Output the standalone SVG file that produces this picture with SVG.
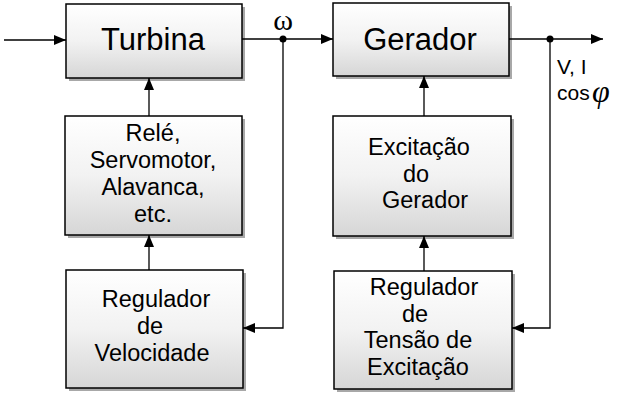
<svg xmlns="http://www.w3.org/2000/svg" width="629" height="396" viewBox="0 0 629 396">
<defs>
<linearGradient id="g" x1="0" y1="0" x2="0" y2="1">
<stop offset="0" stop-color="#ffffff"/>
<stop offset="0.5" stop-color="#f2f2f2"/>
<stop offset="1" stop-color="#d6d6d6"/>
</linearGradient>
<marker id="ah" markerWidth="12" markerHeight="10" refX="12" refY="5" orient="auto" markerUnits="userSpaceOnUse">
<path d="M0,0 L12,5 L0,10 Z" fill="#000"/>
</marker>
</defs>
<style>
.box{fill:url(#g);stroke:#000;stroke-width:1.5}
.sh{fill:#a8a8a8}
.big{font-family:"Liberation Sans",Arial,sans-serif;font-size:31px;fill:#000;text-anchor:middle}
.t{font-family:"Liberation Sans",Arial,sans-serif;font-size:23.5px;fill:#000;text-anchor:middle}
.c{fill:none;stroke:#000;stroke-width:1.3}
</style>
<rect width="629" height="396" fill="#fff"/>
<g id="turbina">
<rect class="sh" x="69" y="7" width="176" height="74"/>
<rect class="box" x="66" y="4" width="176" height="74"/>
<text class="big" x="153" y="50">Turbina</text>
</g>
<g id="gerador">
<rect class="sh" x="336" y="6" width="176" height="73"/>
<rect class="box" x="333" y="3" width="176" height="73"/>
<text class="big" x="420" y="50">Gerador</text>
</g>
<g id="rele">
<rect class="sh" x="68" y="119" width="177" height="119"/>
<rect class="box" x="65" y="116" width="177" height="119"/>
<text class="t" x="153" y="141">Relé,</text>
<text class="t" x="153" y="168">Servomotor,</text>
<text class="t" x="153" y="195">Alavanca,</text>
<text class="t" x="153" y="222">etc.</text>
</g>
<g id="regvel">
<rect class="sh" x="69" y="273" width="177" height="118"/>
<rect class="box" x="66" y="270" width="177" height="118"/>
<text class="t" x="156" y="307">Regulador</text>
<text class="t" x="150" y="334">de</text>
<text class="t" x="152" y="361">Velocidade</text>
</g>
<g id="excitacao">
<rect class="sh" x="336" y="119" width="178" height="120"/>
<rect class="box" x="333" y="116" width="178" height="120"/>
<text class="t" x="419" y="155">Excitação</text>
<text class="t" x="416" y="182">do</text>
<text class="t" x="425" y="208">Gerador</text>
</g>
<g id="regtensao">
<rect class="sh" x="337" y="274" width="178" height="118"/>
<rect class="box" x="334" y="271" width="178" height="118"/>
<text class="t" x="424" y="295">Regulador</text>
<text class="t" x="415" y="322">de</text>
<text class="t" x="418" y="348">Tensão de</text>
<text class="t" x="418" y="375">Excitação</text>
</g>
<g id="connectors">
<line class="c" x1="4" y1="40" x2="66" y2="40" marker-end="url(#ah)"/>
<line class="c" x1="242" y1="39" x2="333" y2="39" marker-end="url(#ah)"/>
<line class="c" x1="509" y1="39" x2="603" y2="39" marker-end="url(#ah)"/>
<circle cx="283" cy="39" r="3.5" fill="#000"/>
<circle cx="550" cy="39" r="3.5" fill="#000"/>
<polyline class="c" points="283,39 283,328 243,328" marker-end="url(#ah)"/>
<polyline class="c" points="550,39 550,328 512,328" marker-end="url(#ah)"/>
<line class="c" x1="149" y1="116" x2="149" y2="78" marker-end="url(#ah)"/>
<line class="c" x1="149" y1="270" x2="149" y2="235" marker-end="url(#ah)"/>
<line class="c" x1="424" y1="116" x2="424" y2="76" marker-end="url(#ah)"/>
<line class="c" x1="424" y1="271" x2="424" y2="236" marker-end="url(#ah)"/>
</g>
<g id="labels">
<text x="283" y="30" font-family="'Liberation Serif','Times New Roman',serif" font-size="30" text-anchor="middle">ω</text>
<text x="557" y="74" font-family="'Liberation Sans',Arial,sans-serif" font-size="21">V, I</text>
<text x="557" y="100" font-family="'Liberation Sans',Arial,sans-serif" font-size="21">cos</text>
<text x="592" y="102" font-family="'Liberation Serif','Times New Roman',serif" font-size="32" font-style="italic">φ</text>
</g>
</svg>
